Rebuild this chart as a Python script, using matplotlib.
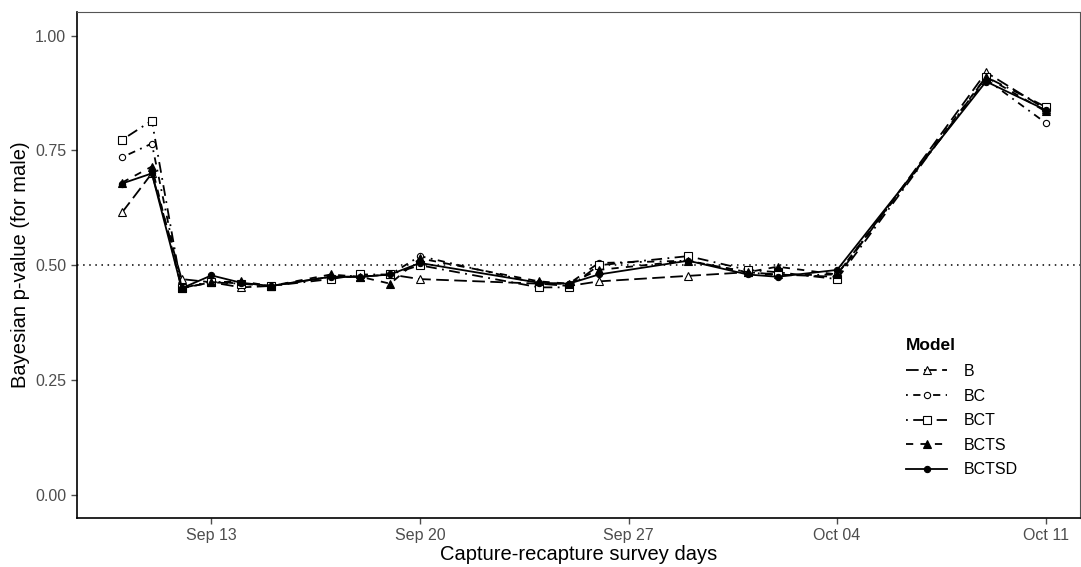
import numpy as np
import pandas as pd
import matplotlib
matplotlib.use("Agg")
import matplotlib.pyplot as plt
import matplotlib.dates as mdates

plt.rcParams["font.family"] = ["Liberation Sans", "DejaVu Sans"]

# survey days
dates = pd.to_datetime([
    "2020-09-10", "2020-09-11", "2020-09-12", "2020-09-13", "2020-09-14",
    "2020-09-15", "2020-09-17", "2020-09-18", "2020-09-19", "2020-09-20",
    "2020-09-24", "2020-09-25", "2020-09-26", "2020-09-29", "2020-10-01",
    "2020-10-02", "2020-10-04", "2020-10-09", "2020-10-11",
])

p_B     = [0.615, 0.700, 0.470, 0.463, 0.452, 0.455, 0.475, 0.475, 0.480, 0.470,
           0.460, 0.455, 0.465, 0.477, 0.485, 0.480, 0.475, 0.920, 0.840]
p_BC    = [0.735, 0.765, 0.450, 0.465, 0.460, 0.455, 0.475, 0.475, 0.480, 0.520,
           0.460, 0.460, 0.505, 0.510, 0.485, 0.478, 0.480, 0.905, 0.810]
p_BCT   = [0.773, 0.815, 0.450, 0.463, 0.460, 0.455, 0.470, 0.480, 0.480, 0.500,
           0.452, 0.452, 0.500, 0.520, 0.490, 0.485, 0.470, 0.910, 0.845]
p_BCTS  = [0.680, 0.715, 0.450, 0.463, 0.465, 0.455, 0.480, 0.475, 0.460, 0.515,
           0.465, 0.460, 0.490, 0.510, 0.485, 0.497, 0.480, 0.910, 0.835]
p_BCTSD = [0.678, 0.700, 0.450, 0.478, 0.462, 0.455, 0.475, 0.475, 0.480, 0.505,
           0.462, 0.460, 0.480, 0.510, 0.480, 0.475, 0.490, 0.900, 0.838]

models = ["B", "BC", "BCT", "BCTS", "BCTSD"]
values = [p_B, p_BC, p_BCT, p_BCTS, p_BCTSD]

# (dashes, marker, fill)
styles = {
    "B":     ((0, (7, 3)), "^", "white"),
    "BC":    ((0, (1, 3, 4, 3)), "o", "white"),
    "BCT":   ((0, (1, 3, 6, 3)), "s", "white"),
    "BCTS":  ((0, (4, 4)), "^", "black"),
    "BCTSD": ("-", "o", "black"),
}
msize = {"B": 6, "BC": 4.5, "BCT": 5.5, "BCTS": 6, "BCTSD": 4.5}

fig = plt.figure(figsize=(10.81, 5.67), dpi=100)
ax = fig.add_axes([0.071, 0.0864, 0.928, 0.893])

ax.axhline(0.5, color="black", linestyle=(0, (1, 3)), linewidth=1.1, zorder=1)

for name, vals in zip(models, values):
    ls, mk, fc = styles[name]
    ax.plot(dates, vals, linestyle=ls, color="black", linewidth=1.3,
            marker=mk, markersize=msize[name], markerfacecolor=fc,
            markeredgecolor="black", markeredgewidth=0.8, label=name, zorder=3)

x0 = pd.Timestamp("2020-09-10") - pd.Timedelta(days=1.52)
x1 = pd.Timestamp("2020-10-11") + pd.Timedelta(days=1.15)
ax.set_xlim(x0, x1)
ax.set_ylim(-0.05, 1.052)

ticks = pd.to_datetime(["2020-09-13", "2020-09-20", "2020-09-27", "2020-10-04", "2020-10-11"])
ax.set_xticks(ticks)
ax.xaxis.set_major_formatter(mdates.DateFormatter("%b %d"))
ax.set_yticks([0, 0.25, 0.5, 0.75, 1.0])
ax.set_yticklabels(["0.00", "0.25", "0.50", "0.75", "1.00"])
ax.tick_params(axis="both", colors="#4d4d4d", labelsize=11.5, length=4, width=1)

for s in ["left", "bottom"]:
    ax.spines[s].set_color("black")
    ax.spines[s].set_linewidth(1.2)
for s in ["top", "right"]:
    ax.spines[s].set_color("#555555")
    ax.spines[s].set_linewidth(0.8)

ax.set_xlabel("Capture-recapture survey days", fontsize=14.5, labelpad=1)
ax.set_ylabel("Bayesian p-value (for male)", fontsize=14.5, labelpad=4)

leg = ax.legend(title="Model", loc="lower right", bbox_to_anchor=(0.952, 0.052),
                frameon=False, fontsize=11.5, numpoints=1, handlelength=2.6,
                labelspacing=0.6, handletextpad=1.0)
leg.get_title().set_fontweight("bold")
leg.get_title().set_fontsize(12.5)
leg._legend_box.align = "left"
leg._legend_box.sep = 8

fig.savefig("out.png", dpi=100)
